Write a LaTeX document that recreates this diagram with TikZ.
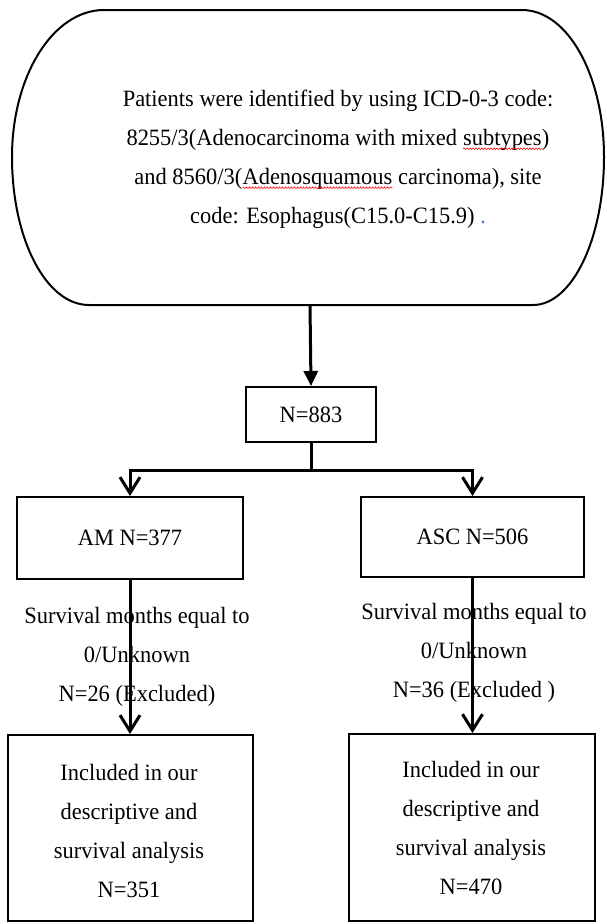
\documentclass[tikz,border=0pt]{standalone}
\usepackage{fontspec}
\setmainfont{Liberation Serif}[FakeStretch=0.96]
\usetikzlibrary{arrows.meta,decorations.pathmorphing}
\newcommand\redwave[1]{\tikz[baseline=(w.base)]{\node[inner sep=0pt,outer sep=0pt,anchor=base] (w) {#1};
  \draw[red, line width=0.6pt, decorate, decoration={snake,amplitude=0.8pt,segment length=3pt}] ([yshift=-3.5pt]w.base west) -- ([yshift=-3.5pt]w.base east);}}
\definecolor{dotblue}{RGB}{80,120,200}
\begin{document}
\begin{tikzpicture}[x=1pt,y=-1pt,
  txt/.style={font=\fontsize{23.4}{39}\selectfont, align=center, inner sep=0pt},
  box/.style={draw, line width=2pt, txt},
  conn/.style={line width=3pt, line join=miter},
  barb/.style={conn,-{Straight Barb[length=16pt,width=20pt]}},
  tri/.style={conn,-{Triangle[length=15pt,width=14pt]}}
]
\useasboundingbox (0,0) rectangle (606,924);
% top rounded shape
\draw[line width=2pt] (104,10) -- (522,10)
  .. controls (568,10) and (604,76) .. (604,157)
  .. controls (604,239) and (572,305) .. (533,305) -- (89,305)
  .. controls (46,305) and (12,239) .. (12,157)
  .. controls (12,76) and (53,10) .. (104,10) -- cycle;
\coordinate (topb) at (310,305);
\node[txt] (toptext) at (338,159) {Patients were identified by using ICD-0-3 code:\\
8255/3(Adenocarcinoma with mixed \redwave{subtypes})\\
and 8560/3(\redwave{Adenosquamous} carcinoma), site\\
code: Esophagus(C15.0-C15.9) {\color{dotblue}.}};
% boxes
\node[box, minimum width=130pt, minimum height=55pt] (n883) at (311,414.5) {N=883};
\node[box, minimum width=226pt, minimum height=82pt] (am) at (130,538) {AM N=377};
\node[box, minimum width=223pt, minimum height=80pt] (asc) at (472.5,537) {ASC N=506};
\node[box, minimum width=245pt, minimum height=186pt] (inc1) at (130.5,828) {};
\node[box, minimum width=246pt, minimum height=187pt] (inc2) at (472,827.5) {};
\node[txt] (inc1t) at (129,830.5) {Included in our\\descriptive and\\survival analysis\\N=351};
\node[txt] (inc2t) at (471,827.5) {Included in our\\descriptive and\\survival analysis\\N=470};
% exclusion labels
\node[txt] (exc1) at (137,657) {Survival months equal to\\0/Unknown\\N=26 (Excluded)};
\node[txt] (exc2) at (474,653) {Survival months equal to\\0/Unknown\\N=36 (Excluded )};
% connectors
\draw[tri] (topb) -- (n883.north);
\draw[barb] (n883.south) -- ++(0,27) -| (am.north);
\draw[barb] (n883.south) -- ++(0,27) -| (asc.north);
\draw[barb] (am.south) -- (am.south |- inc1.north);
\draw[barb] (asc.south) -- (asc.south |- inc2.north);
\end{tikzpicture}
\end{document}
